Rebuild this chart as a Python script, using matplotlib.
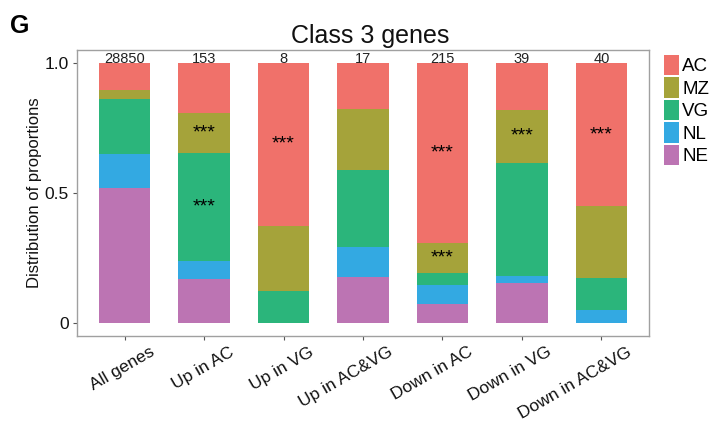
import matplotlib
matplotlib.use('Agg')
import matplotlib.pyplot as plt
import numpy as np
from matplotlib.transforms import ScaledTranslation
from matplotlib.patches import Patch

plt.rcParams['font.family'] = ['Liberation Sans', 'DejaVu Sans']

# ---- data ----
groups = ["All genes", "Up in AC", "Up in VG", "Up in AC&VG",
          "Down in AC", "Down in VG", "Down in AC&VG"]
counts = [28850, 153, 8, 17, 215, 39, 40]
# stacked bottom -> top
NE = [0.520, 0.168, 0.000, 0.176, 0.073, 0.154, 0.000]
NL = [0.129, 0.070, 0.000, 0.118, 0.073, 0.025, 0.050]
VG = [0.211, 0.417, 0.125, 0.294, 0.045, 0.436, 0.125]
MZ = [0.035, 0.153, 0.250, 0.236, 0.118, 0.205, 0.275]
AC = [0.105, 0.192, 0.625, 0.176, 0.691, 0.180, 0.550]
categories = ["NE", "NL", "VG", "MZ", "AC"]
series = {"NE": NE, "NL": NL, "VG": VG, "MZ": MZ, "AC": AC}
colors = {"AC": "#F0716A", "MZ": "#A5A33A", "VG": "#2BB57B",
          "NL": "#33A9E2", "NE": "#BC74B3"}
# significance marks: (group index, category)
stars = [(1, "MZ"), (1, "VG"), (2, "AC"), (4, "AC"), (4, "MZ"),
         (5, "MZ"), (6, "AC")]

# ---- figure ----
fig = plt.figure(figsize=(7.1, 4.23), dpi=100)
ax = fig.add_axes([77/710, 87/423, 572/710, 286/423])

x = np.arange(len(groups))
bottom = np.zeros(len(groups))
bottoms = {}
for cat in categories:
    vals = np.array(series[cat])
    ax.bar(x, vals, width=0.65, bottom=bottom, color=colors[cat],
           linewidth=0)
    bottoms[cat] = bottom.copy()
    bottom = bottom + vals

for gi, cat in stars:
    mid = bottoms[cat][gi] + series[cat][gi] / 2
    ax.text(x[gi], mid, "***", ha="center", va="center", fontsize=14,
            color="#000000")

for xi, n in zip(x, counts):
    ax.text(xi, 1.0, str(n), ha="center", va="baseline", fontsize=10.5,
            color="#222222")

ax.set_xlim(-0.6, 6.6)
ax.set_ylim(-0.05, 1.05)
ax.set_yticks([0, 0.5, 1.0])
ax.set_yticklabels(["0", "0.5", "1.0"])
ax.set_xticks(x)
ax.set_xticklabels(groups)
for sp in ax.spines.values():
    sp.set_color("#a0a0a0")
    sp.set_linewidth(1.0)
ax.tick_params(axis="both", colors="#555555", labelcolor="#111111",
               length=3, labelsize=12.5)
ax.tick_params(axis="y", pad=3, labelsize=12.5)
ax.tick_params(axis="x", pad=3)
offset = ScaledTranslation(25/100, 0, fig.dpi_scale_trans)
for lab in ax.get_xticklabels():
    lab.set_rotation(30)
    lab.set_ha("right")
    lab.set_va("top")
    lab.set_rotation_mode("anchor")
    lab.set_transform(lab.get_transform() + offset)

ax.set_ylabel("Distribution of proportions", fontsize=12, labelpad=2,
              color="#111111")

fig.text(370/710, (423-43.5)/423, "Class 3 genes", ha="center",
         va="baseline", fontsize=18, color="#111111")
fig.text(10/710, (423-33)/423, "G", ha="left", va="baseline",
         fontsize=18, fontweight="bold")

handles = [Patch(facecolor=colors[c], edgecolor="none")
           for c in ["AC", "MZ", "VG", "NL", "NE"]]
ax.legend(handles, ["AC", "MZ", "VG", "NL", "NE"], loc="upper left",
          bbox_to_anchor=(664/710, (423-55)/423),
          bbox_transform=fig.transFigure, frameon=False, borderpad=0,
          borderaxespad=0, handlelength=0.8, handleheight=1.28,
          handletextpad=0.16, labelspacing=0.11, fontsize=13.5)

fig.savefig("out.png", dpi=100)
